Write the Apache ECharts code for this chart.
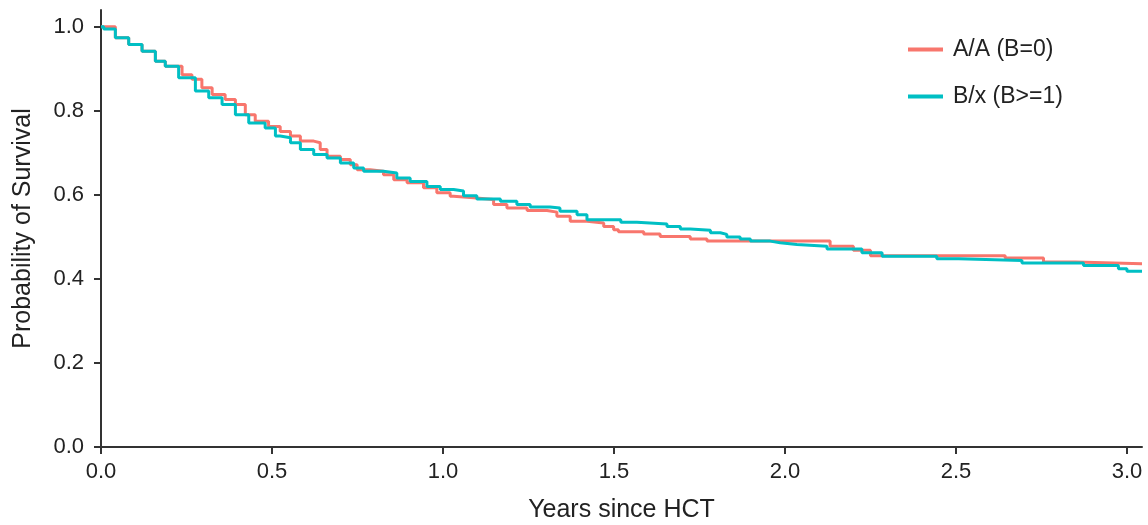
<!DOCTYPE html>
<html>
<head>
<meta charset="utf-8">
<script src="https://cdn.jsdelivr.net/npm/echarts@6/dist/echarts.min.js"></script>
<style>
  html, body { margin: 0; padding: 0; background: #fff; }
  #chart { width: 1148px; height: 525px; }
</style>
</head>
<body>
<div id="chart"></div>
<script>
// series names
const seriesNames = ['A/A (B=0)', 'B/x (B>=1)'];

// Kaplan-Meier steps: [years, survival]
const redSteps = [
  [0, 1.0], [0.042, 0.974], [0.081, 0.958], [0.120, 0.942], [0.159, 0.918],
  [0.188, 0.906], [0.237, 0.886], [0.266, 0.875], [0.295, 0.855], [0.325, 0.839],
  [0.363, 0.827], [0.393, 0.815], [0.422, 0.791], [0.451, 0.775], [0.490, 0.763],
  [0.524, 0.751], [0.554, 0.740], [0.583, 0.728], [0.622, 0.724], [0.641, 0.708],
  [0.661, 0.692], [0.700, 0.684], [0.729, 0.672], [0.749, 0.660], [0.787, 0.656],
  [0.826, 0.648], [0.856, 0.636], [0.895, 0.629], [0.943, 0.617], [0.982, 0.605],
  [1.021, 0.597], [1.031, 0.593], [1.089, 0.589], [1.148, 0.577], [1.187, 0.569],
  [1.246, 0.563], [1.304, 0.559], [1.333, 0.549], [1.372, 0.537], [1.421, 0.533],
  [1.470, 0.525], [1.499, 0.517], [1.513, 0.512], [1.587, 0.507], [1.635, 0.501],
  [1.723, 0.495], [1.772, 0.490], [2.132, 0.478], [2.200, 0.468], [2.250, 0.455],
  [2.644, 0.450], [2.756, 0.440], [2.850, 0.436], [3.044, 0.436]
];
const tealSteps = [
  [0, 1.0], [0.008, 0.995], [0.042, 0.974], [0.081, 0.958], [0.120, 0.942],
  [0.159, 0.918], [0.188, 0.906], [0.227, 0.879], [0.276, 0.847], [0.315, 0.831],
  [0.354, 0.815], [0.393, 0.791], [0.432, 0.771], [0.480, 0.759], [0.510, 0.740],
  [0.524, 0.736], [0.554, 0.724], [0.583, 0.708], [0.622, 0.696], [0.661, 0.688],
  [0.700, 0.676], [0.739, 0.664], [0.768, 0.656], [0.826, 0.652], [0.865, 0.640],
  [0.904, 0.632], [0.953, 0.620], [0.992, 0.613], [1.031, 0.609], [1.060, 0.598],
  [1.099, 0.590], [1.168, 0.585], [1.216, 0.577], [1.255, 0.571], [1.313, 0.569],
  [1.342, 0.561], [1.392, 0.553], [1.421, 0.541], [1.520, 0.535], [1.567, 0.531],
  [1.655, 0.525], [1.694, 0.519], [1.723, 0.516], [1.782, 0.510], [1.811, 0.506],
  [1.830, 0.500], [1.869, 0.495], [1.899, 0.490], [1.957, 0.486], [1.986, 0.482],
  [2.035, 0.478], [2.123, 0.471], [2.225, 0.462], [2.284, 0.454], [2.444, 0.448],
  [2.508, 0.444], [2.693, 0.438], [2.873, 0.432], [2.975, 0.424], [3.000, 0.418],
  [3.044, 0.418]
];

// tick labels
const xTicks = [0, 0.5, 1.0, 1.5, 2.0, 2.5, 3.0];
const yTicks = [0, 0.2, 0.4, 0.6, 0.8, 1.0];

const axisColor = '#333';
const textColor = '#222';
const fontFamily = 'Liberation Sans, Arial, sans-serif';

const chart = echarts.init(document.getElementById('chart'));

const option = {
  animation: false,
  textStyle: { fontFamily: fontFamily },
  grid: { left: 101, right: 6, top: 10, bottom: 78, outerBoundsMode: 'none', containLabel: false },
  legend: {
    orient: 'vertical',
    left: 903,
    top: 32,
    itemWidth: 35,
    itemHeight: 4,
    itemGap: 22,
    icon: 'rect',
    textStyle: { fontSize: 23, color: textColor, lineHeight: 25, padding: [0, 0, 0, 5] },
    data: seriesNames
  },
  xAxis: {
    type: 'value',
    min: 0,
    max: 3.044,
    name: 'Years since HCT',
    nameLocation: 'middle',
    nameGap: 51,
    nameTextStyle: { fontSize: 25, color: textColor },
    axisLine: { lineStyle: { color: axisColor, width: 2 } },
    axisTick: { length: 7, lineStyle: { color: axisColor, width: 2 }, customValues: xTicks },
    axisLabel: {
      fontSize: 22, color: textColor, margin: 14,
      customValues: xTicks,
      formatter: v => v.toFixed(1)
    },
    splitLine: { show: false }
  },
  yAxis: {
    type: 'value',
    min: 0,
    max: 1.04,
    name: 'Probability of Survival',
    nameLocation: 'middle',
    nameGap: 65,
    nameTextStyle: { fontSize: 25, color: textColor },
    axisLine: { show: true, lineStyle: { color: axisColor, width: 2 } },
    axisTick: { show: true, length: 7, lineStyle: { color: axisColor, width: 2 }, customValues: yTicks },
    axisLabel: {
      fontSize: 22, color: textColor, margin: 17,
      customValues: yTicks,
      formatter: v => v.toFixed(1)
    },
    splitLine: { show: false }
  },
  series: [
    {
      name: seriesNames[0],
      type: 'line',
      step: 'end',
      showSymbol: false,
      lineStyle: { width: 3, color: '#F8766D' },
      itemStyle: { color: '#F8766D' },
      data: redSteps
    },
    {
      name: seriesNames[1],
      type: 'line',
      step: 'end',
      showSymbol: false,
      lineStyle: { width: 3, color: '#00BFC4' },
      itemStyle: { color: '#00BFC4' },
      data: tealSteps
    }
  ]
};

chart.setOption(option);
</script>
</body>
</html>
